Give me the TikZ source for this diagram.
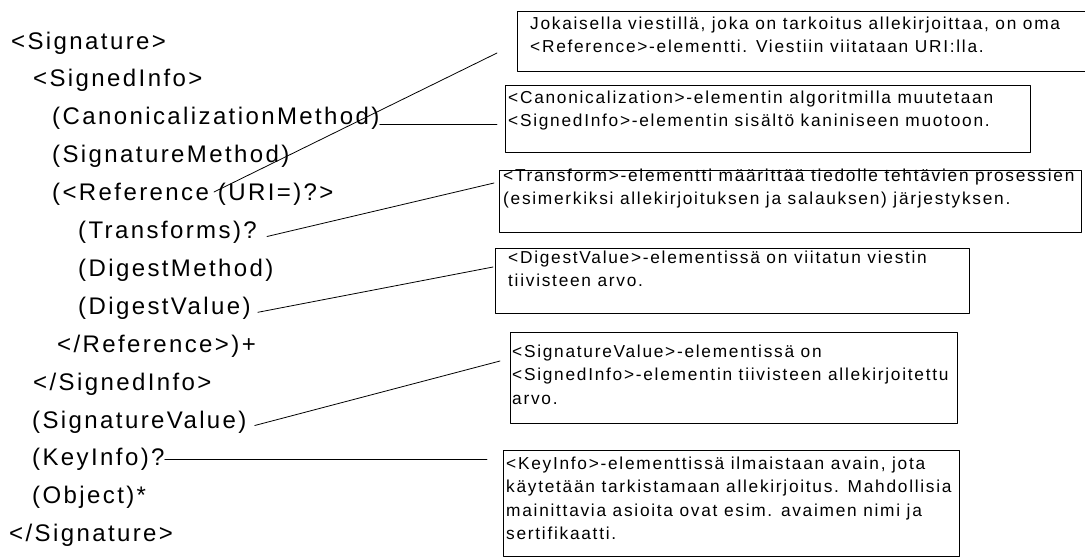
\documentclass[tikz,border=0pt]{standalone}
\usepackage{fontspec}
\setmainfont{Liberation Sans}[LetterSpace=10]
\newcommand\tagfont{\fontsize{24}{28}\selectfont}
\newcommand\notefont{\fontsize{17.3}{23.5}\selectfont}

\begin{document}
\begin{tikzpicture}[x=1pt, y=-1pt, line cap=round, line join=round,
  tag/.style={anchor=base west, inner sep=0pt, font=\tagfont},
  note/.style={anchor=base west, inner sep=0pt, align=left, font=\notefont},
  notebox/.style={draw, line width=1.2pt, anchor=north west, inner sep=0pt},
  link/.style={line width=0.8pt}]

\useasboundingbox (0,0) rectangle (1085,558);
\clip (0,0) rectangle (1085,558);

% Tags
\node[tag] (sig)     at (11,49)     {<Signature>};
\node[tag] (sinfo)   at (33,86.9)   {<SignedInfo>};
\node[tag] (canon)   at (52,124.8)  {(CanonicalizationMethod)};
\node[tag] (smeth)   at (52,162.7)  {(SignatureMethod)};
\node[tag] (ref)     at (52,200.6)  {(<Reference (URI=)?>};
\node[tag] (trans)   at (78,238.5)  {(Transforms)?};
\node[tag] (dmeth)   at (78,276.4)  {(DigestMethod)};
\node[tag] (dval)    at (78,314.3)  {(DigestValue)};
\node[tag] (refend)  at (57,352.2)  {</Reference>)+};
\node[tag] (sinfoend) at (33,390.1) {</SignedInfo>};
\node[tag] (sval)    at (32,428)    {(SignatureValue)};
\node[tag] (key)     at (32,465.9)  {(KeyInfo)?};
\node[tag] (obj)     at (32,503.8)  {(Object)*};
\node[tag] (sigend)  at (9,541.7)   {</Signature>};

% Boxes
\node[notebox, minimum width=573pt, minimum height=60pt]  (b1) at (517,11)  {};
\node[notebox, minimum width=525pt, minimum height=67pt]  (b2) at (505,85)  {};
\node[notebox, minimum width=582pt, minimum height=62pt]  (b3) at (499,170) {};
\node[notebox, minimum width=474pt, minimum height=65pt]  (b4) at (495,248) {};
\node[notebox, minimum width=447pt, minimum height=91pt]  (b5) at (510,332) {};
\node[notebox, minimum width=456pt, minimum height=106pt] (b6) at (503,450) {};

% Notes (placed at the baseline of their last line)
\node[note] (n1) at (530,52.5) {Jokaisella viestillä, joka on tarkoitus allekirjoittaa, on oma\\
  <Reference>-elementti. Viestiin viitataan URI:lla.};
\node[note] (n2) at (508,126.5) {<Canonicalization>-elementin algoritmilla muutetaan\\
  <SignedInfo>-elementin sisältö kaniniseen muotoon.};
\node[note] (n3) at (503,204.5) {<Transform>-elementti määrittää tiedolle tehtävien prosessien\\
  (esimerkiksi allekirjoituksen ja salauksen) järjestyksen.};
\node[note] (n4) at (508,286.5) {<DigestValue>-elementissä on viitatun viestin\\
  tiivisteen arvo.};
\node[note] (n5) at (512,404) {<SignatureValue>-elementissä on\\
  <SignedInfo>-elementin tiivisteen allekirjoitettu\\
  arvo.};
\node[note] (n6) at (506,539.5) {<KeyInfo>-elementtissä ilmaistaan avain, jota\\
  käytetään tarkistamaan allekirjoitus. Mahdollisia\\
  mainittavia asioita ovat esim. avaimen nimi ja\\
  sertifikaatti.};

% Line ends
\coordinate (s1) at (214,192);
\coordinate (e1) at (497,53);
\coordinate (e2) at (497,124.8);
\coordinate (e3) at (494,183);
\coordinate (e4) at (493,267);
\coordinate (e5) at (500,361);
\coordinate (e6) at (487,458.9);

% Segments
\draw[link] (s1) -- (e1);
\draw[link] (canon.base east) -- (e2);
\draw[link] ([xshift=10pt,yshift=2pt]trans.base east) -- (e3);
\draw[link] ([xshift=7pt,yshift=2pt]dval.base east) -- (e4);
\draw[link] ([xshift=8pt,yshift=2.5pt]sval.base east) -- (e5);
\draw[link] ([yshift=7pt]key.base east) -- (e6);

\end{tikzpicture}
\end{document}
